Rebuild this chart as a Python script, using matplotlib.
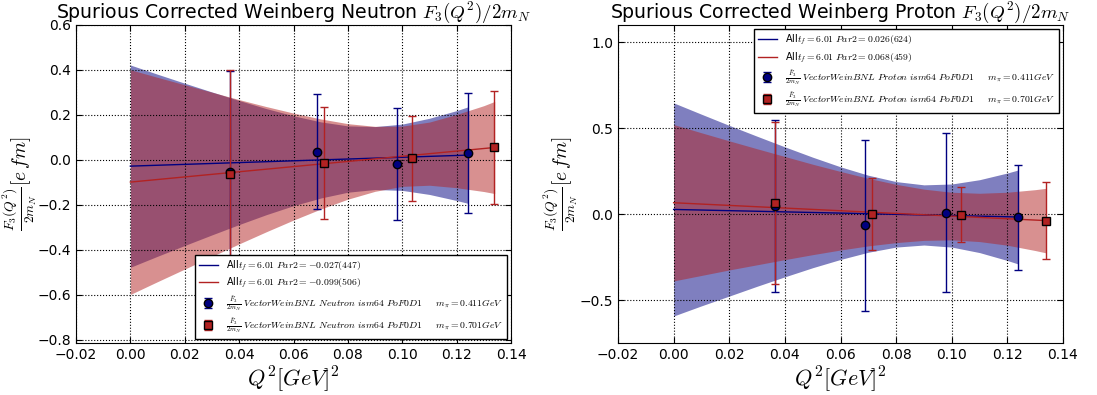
import matplotlib
matplotlib.use("Agg")
import matplotlib.pyplot as plt
import numpy as np

plt.rcParams['mathtext.fontset'] = 'cm'
plt.rcParams['font.family'] = ['DejaVu Sans']
plt.rcParams['xtick.direction'] = 'in'
plt.rcParams['ytick.direction'] = 'in'
plt.rcParams['xtick.top'] = True
plt.rcParams['ytick.right'] = True

# ---------------- Neutron (left) ----------------
n_q2_411 = [0.0365, 0.0688, 0.0979, 0.1241]
n_val_411 = [-0.056, 0.037, -0.018, 0.032]
n_err_411 = [0.45, 0.255, 0.249, 0.267]

n_q2_701 = [0.0365, 0.0711, 0.1035, 0.1336]
n_val_701 = [-0.061, -0.015, 0.007, 0.055]
n_err_701 = [0.46, 0.248, 0.19, 0.25]

n_fit_x_411 = [0.0, 0.124]
n_fit_y_411 = [-0.028, 0.021]
n_fit_x_701 = [0.0, 0.134]
n_fit_y_701 = [-0.099, 0.055]

n_band_x_411 = [0.0, 0.01, 0.02, 0.03, 0.04, 0.05, 0.06, 0.07, 0.08, 0.09, 0.10, 0.11, 0.12, 0.124]
n_band_hi_411 = [0.422, 0.381, 0.341, 0.302, 0.264, 0.228, 0.196, 0.169, 0.151, 0.148, 0.159, 0.185, 0.219, 0.235]
n_band_lo_411 = [-0.478, -0.429, -0.381, -0.334, -0.288, -0.244, -0.204, -0.170, -0.144, -0.132, -0.136, -0.154, -0.181, -0.193]

n_band_x_701 = [0.0, 0.01, 0.02, 0.03, 0.04, 0.05, 0.06, 0.07, 0.08, 0.09, 0.10, 0.11, 0.12, 0.13, 0.134]
n_band_hi_701 = [0.401, 0.367, 0.334, 0.301, 0.268, 0.237, 0.208, 0.182, 0.161, 0.149, 0.150, 0.168, 0.202, 0.241, 0.260]
n_band_lo_701 = [-0.599, -0.542, -0.486, -0.430, -0.374, -0.320, -0.268, -0.219, -0.175, -0.140, -0.118, -0.113, -0.124, -0.141, -0.150]

# ---------------- Proton (right) ----------------
p_q2_411 = [0.0363, 0.0688, 0.0978, 0.1239]
p_val_411 = [0.046, -0.066, 0.009, -0.019]
p_err_411 = [0.50, 0.498, 0.464, 0.304]

p_q2_701 = [0.0365, 0.0712, 0.1034, 0.1338]
p_val_701 = [0.064, 0.0, -0.004, -0.038]
p_err_701 = [0.473, 0.208, 0.159, 0.225]

p_fit_x_411 = [0.0, 0.124]
p_fit_y_411 = [0.027, -0.017]
p_fit_x_701 = [0.0, 0.134]
p_fit_y_701 = [0.066, -0.038]

p_band_x_411 = [0.0, 0.01, 0.02, 0.03, 0.04, 0.05, 0.06, 0.07, 0.08, 0.09, 0.10, 0.11, 0.12, 0.124]
p_band_hi_411 = [0.647, 0.581, 0.516, 0.453, 0.391, 0.331, 0.275, 0.226, 0.189, 0.170, 0.175, 0.200, 0.239, 0.257]
p_band_lo_411 = [-0.593, -0.534, -0.477, -0.420, -0.365, -0.312, -0.264, -0.222, -0.192, -0.180, -0.192, -0.224, -0.270, -0.291]

p_band_x_701 = [0.0, 0.01, 0.02, 0.03, 0.04, 0.05, 0.06, 0.07, 0.08, 0.09, 0.10, 0.11, 0.12, 0.13, 0.134]
p_band_hi_701 = [0.521, 0.473, 0.426, 0.380, 0.335, 0.290, 0.248, 0.208, 0.173, 0.145, 0.127, 0.121, 0.127, 0.142, 0.150]
p_band_lo_701 = [-0.389, -0.357, -0.325, -0.295, -0.265, -0.236, -0.209, -0.185, -0.166, -0.153, -0.150, -0.160, -0.181, -0.212, -0.226]

n_fit_labels = [r'All$t_f=6.01\ Par2=-0.027(447)$', r'All$t_f=6.01\ Par2=-0.099(506)$']
p_fit_labels = [r'All$t_f=6.01\ Par2=0.026(624)$', r'All$t_f=6.01\ Par2=0.068(459)$']
n_pt_labels = [r'$\frac{\tilde{F}_3}{2m_N}\ VectorWeinBNL\ Neutron\ ism64\ PoF0D1\quad\ \ m_\pi=0.411GeV$',
               r'$\frac{\tilde{F}_3}{2m_N}\ VectorWeinBNL\ Neutron\ ism64\ PoF0D1\quad\ \ m_\pi=0.701GeV$']
p_pt_labels = [r'$\frac{\tilde{F}_3}{2m_N}\ VectorWeinBNL\ Proton\ ism64\ PoF0D1\quad\ \ m_\pi=0.411GeV$',
               r'$\frac{\tilde{F}_3}{2m_N}\ VectorWeinBNL\ Proton\ ism64\ PoF0D1\quad\ \ m_\pi=0.701GeV$']

c_blue = 'navy'
c_red = 'firebrick'

fig = plt.figure(figsize=(10.97, 3.95), dpi=100)
axL = fig.add_axes([76/1097, 1-343/395, 435/1097, 318/395])
axR = fig.add_axes([618/1097, 1-343/395, 445/1097, 318/395])


def draw(ax, d, title, ylim, yticks, legloc, ylab_x):
    ax.fill_between(d['bx1'], d['blo1'], d['bhi1'], color=c_blue, alpha=0.5, lw=0)
    ax.fill_between(d['bx2'], d['blo2'], d['bhi2'], color=c_red, alpha=0.5, lw=0)
    l1, = ax.plot(d['fx1'], d['fy1'], color=c_blue, lw=1, label=d['fl'][0])
    l2, = ax.plot(d['fx2'], d['fy2'], color=c_red, lw=1, label=d['fl'][1])
    e1 = ax.errorbar(d['x1'], d['y1'], yerr=d['e1'], fmt='o', color=c_blue, mfc=c_blue,
                     mec='black', ms=6, capsize=3, elinewidth=1, capthick=1, label=d['pl'][0])
    e2 = ax.errorbar(d['x2'], d['y2'], yerr=d['e2'], fmt='s', color=c_red, mfc=c_red,
                     mec='black', ms=6, capsize=3, elinewidth=1, capthick=1, label=d['pl'][1])
    ax.set_xlim(-0.02, 0.14)
    ax.set_ylim(*ylim)
    ax.set_yticks(yticks)
    ax.set_xticks([-0.02, 0.0, 0.02, 0.04, 0.06, 0.08, 0.10, 0.12, 0.14])
    ax.grid(True, color='black', linestyle=':', linewidth=0.8)
    ax.tick_params(labelsize=10, length=4)
    ax.set_xlabel(r'$Q^2[GeV]^2$', fontsize=16, labelpad=2)
    ax.set_ylabel(r'$\frac{F_3(Q^2)}{2m_N}[e\,fm]$', fontsize=14)
    ax.yaxis.set_label_coords(ylab_x, 0.5)
    ax.set_title(title, fontsize=13.6, pad=4)
    leg = ax.legend(handles=[l1, l2, e1, e2], loc=legloc, fontsize=7, fancybox=False,
                    edgecolor='black', framealpha=1, numpoints=1, labelspacing=0.35,
                    handlelength=2.0, borderaxespad=0.4, borderpad=0.4)
    leg.get_frame().set_linewidth(1)


draw(axL, dict(bx1=n_band_x_411, bhi1=n_band_hi_411, blo1=n_band_lo_411,
               bx2=n_band_x_701, bhi2=n_band_hi_701, blo2=n_band_lo_701,
               fx1=n_fit_x_411, fy1=n_fit_y_411, fx2=n_fit_x_701, fy2=n_fit_y_701,
               x1=n_q2_411, y1=n_val_411, e1=n_err_411,
               x2=n_q2_701, y2=n_val_701, e2=n_err_701,
               fl=n_fit_labels, pl=n_pt_labels),
     r'Spurious Corrected Weinberg Neutron $F_3(Q^2)/2m_N$', (-0.815, 0.6),
     [-0.8, -0.6, -0.4, -0.2, 0.0, 0.2, 0.4, 0.6], 'lower right', -0.086)

draw(axR, dict(bx1=p_band_x_411, bhi1=p_band_hi_411, blo1=p_band_lo_411,
               bx2=p_band_x_701, bhi2=p_band_hi_701, blo2=p_band_lo_701,
               fx1=p_fit_x_411, fy1=p_fit_y_411, fx2=p_fit_x_701, fy2=p_fit_y_701,
               x1=p_q2_411, y1=p_val_411, e1=p_err_411,
               x2=p_q2_701, y2=p_val_701, e2=p_err_701,
               fl=p_fit_labels, pl=p_pt_labels),
     r'Spurious Corrected Weinberg Proton $F_3(Q^2)/2m_N$', (-0.75, 1.1),
     [-0.5, 0.0, 0.5, 1.0], 'upper right', -0.085)

fig.savefig('out.png', dpi=100, facecolor='white')
